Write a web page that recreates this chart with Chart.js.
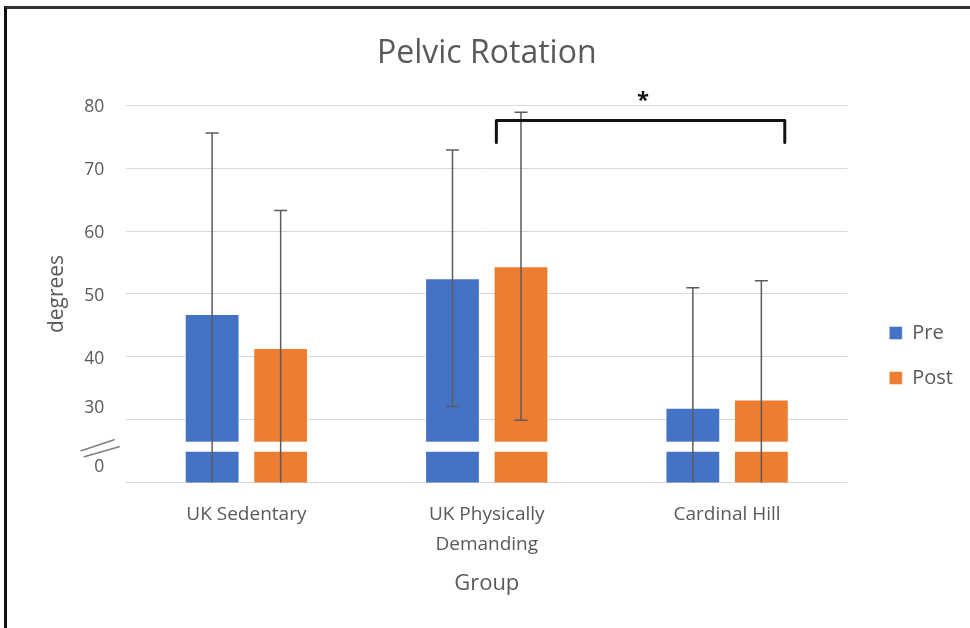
<!DOCTYPE html>
<html>
<head>
<meta charset="utf-8">
<script src="https://cdn.jsdelivr.net/npm/chart.js@4"></script>
<style>
body{margin:0;background:#fff;}
#wrap{position:relative;width:970px;height:628px;}
#frame{position:absolute;left:4px;top:6px;right:0;bottom:0;border-left:3px solid #111;border-top:3px solid #333;pointer-events:none;}
</style>
</head>
<body>
<div id="wrap">
<canvas id="pelvicChart" width="970" height="628"></canvas>
<div id="frame"></div>
</div>
<script>
// values (axis is broken: bottom "0", then 30..80)
let groups = [["UK Sedentary"], ["UK Physically", "Demanding"], ["Cardinal Hill"]];
let seriesNames = ["Pre", "Post"];
let preMean = [46.8, 52.5, 31.9];
let postMean = [41.4, 54.4, 33.2];
let preErr = [28.8, 20.4, 19.1];
let postErr = [21.9, 24.5, 18.9];
let yTicks = [20, 30, 40, 50, 60, 70, 80];
let yTickText = ["0", "30", "40", "50", "60", "70", "80"];

// significance bracket between UK Physically Demanding and Cardinal Hill
let bracketX = [1.04, 2.24];
let bracketY = [77.6, 74.1];
let starPos = [1.65, 81.4];

let breakBand = [24.9, 26.5];

let grey = "#595959";
let font = "Open Sans";

let errorBars = {
id: "errorBars",
afterDatasetsDraw(chart){
let ctx = chart.ctx;
let y = chart.scales.y;
let area = chart.chartArea;
let errs = [preErr, postErr];
let means = [preMean, postMean];

// white break band across each bar
ctx.save();
ctx.fillStyle = "#fff";
let yTop = y.getPixelForValue(breakBand[1]);
let yBot = y.getPixelForValue(breakBand[0]);
chart.data.datasets.forEach((ds,i)=>{
chart.getDatasetMeta(i).data.forEach(bar=>{
ctx.fillRect(bar.x - bar.width/2 - 1, yTop, bar.width + 2, yBot - yTop);
});
});

// whiskers
ctx.strokeStyle = "#5c5c5c";
ctx.lineWidth = 1.5;
chart.data.datasets.forEach((ds,i)=>{
chart.getDatasetMeta(i).data.forEach((bar,j)=>{
let hi = means[i][j] + errs[i][j];
let lo = means[i][j] - errs[i][j];
let pHi = y.getPixelForValue(hi);
let clipped = lo < y.min;
let pLo = clipped ? area.bottom : y.getPixelForValue(lo);
ctx.beginPath();
ctx.moveTo(bar.x, pHi);
ctx.lineTo(bar.x, pLo);
ctx.moveTo(bar.x - 6.5, pHi);
ctx.lineTo(bar.x + 6.5, pHi);
if(!clipped){
ctx.moveTo(bar.x - 6.5, pLo);
ctx.lineTo(bar.x + 6.5, pLo);
}
ctx.stroke();
});
});
ctx.restore();
},
afterDraw(chart){
let ctx = chart.ctx;
let x = chart.scales.x;
let y = chart.scales.y;
ctx.save();

// bracket
ctx.strokeStyle = "#111";
ctx.lineWidth = 3;
ctx.lineJoin = "round";
ctx.lineCap = "round";
let x1 = x.getPixelForValue(bracketX[0]);
let x2 = x.getPixelForValue(bracketX[1]);
let yH = y.getPixelForValue(bracketY[0]);
let yL = y.getPixelForValue(bracketY[1]);
ctx.beginPath();
ctx.moveTo(x1, yL);
ctx.lineTo(x1, yH);
ctx.lineTo(x2, yH);
ctx.lineTo(x2, yL);
ctx.stroke();

ctx.fillStyle = "#111";
ctx.font = "bold 22px '" + font + "'";
ctx.textAlign = "center";
ctx.textBaseline = "middle";
ctx.fillText("*", x.getPixelForValue(starPos[0]), y.getPixelForValue(starPos[1]) + 4);

// axis break marks
let yb = y.getPixelForValue((breakBand[0] + breakBand[1]) / 2);
let xl = chart.chartArea.left;
ctx.strokeStyle = "#7f7f7f";
ctx.lineWidth = 1.5;
ctx.beginPath();
ctx.moveTo(xl - 45, yb + 4);
ctx.lineTo(xl - 12, yb - 7);
ctx.moveTo(xl - 42, yb + 10);
ctx.lineTo(xl - 7, yb);
ctx.stroke();
ctx.restore();
}
};

// lift the two labels below the break, as in the picture
let labelNudge = {
id: "labelNudge",
beforeDraw(chart){
let items = chart.scales.y.getLabelItems();
items.forEach(it=>{
if(it.label === "30") it.options.translation[1] -= 12;
if(it.label === "0") it.options.translation[1] -= 16;
if(it.label !== "30" && it.label !== "0") it.options.translation[1] += 2;
});
}
};

new Chart(document.getElementById("pelvicChart"),{
type: "bar",
data: {
labels: groups,
datasets: [
{label: seriesNames[0], data: preMean, backgroundColor: "#4472C4", borderColor: "rgba(255,255,255,0.45)", borderWidth: 1, borderSkipped: false},
{label: seriesNames[1], data: postMean, backgroundColor: "#ED7D31", borderColor: "rgba(255,255,255,0.45)", borderWidth: 1, borderSkipped: false}
]
},
options: {
responsive: false,
animation: false,
layout: {padding: {left: 44, right: 7, top: 0, bottom: 31}},
categoryPercentage: 0.57,
barPercentage: 0.8,
plugins: {
title: {
display: true,
fullSize: false,
text: "Pelvic Rotation",
color: grey,
font: {family: font, size: 32, weight: "normal"},
padding: {top: 35, bottom: 32}
},
legend: {
position: "right",
title: {display: true, text: "", font: {size: 2, lineHeight: 1}, padding: {top: 112, bottom: 0}},
labels: {
color: grey,
font: {family: font, size: 20},
boxWidth: 13,
boxHeight: 13,
padding: 25
}
},
tooltip: {enabled: false}
},
scales: {
x: {
grid: {display: false, drawTicks: false},
border: {display: false},
ticks: {color: grey, font: {family: font, size: 19, lineHeight: 1.58}, padding: 17, maxRotation: 0},
title: {display: true, text: "Group", color: grey, font: {family: font, size: 22}, padding: {top: -6, bottom: 0}}
},
y: {
min: 20,
max: 80,
afterBuildTicks: axis=>{ axis.ticks = yTicks.map(v=>({value: v})); },
grid: {color: "#D9D9D9", drawTicks: false},
border: {display: false},
ticks: {
color: grey,
font: {family: font, size: 17.5},
padding: 22,
callback: v=>yTickText[yTicks.indexOf(v)]
},
title: {display: true, text: "degrees", color: grey, font: {family: font, size: 21}, padding: {top: 0, bottom: -7}}
},
// empty spacer on the right so the plot ends where the legend gap starts
gap: {
position: "right",
display: true,
grid: {display: false},
border: {display: false},
ticks: {display: false},
afterFit: s=>{ s.width = 17; }
}
}
},
plugins: [errorBars, labelNudge]
});
</script>
</body>
</html>
